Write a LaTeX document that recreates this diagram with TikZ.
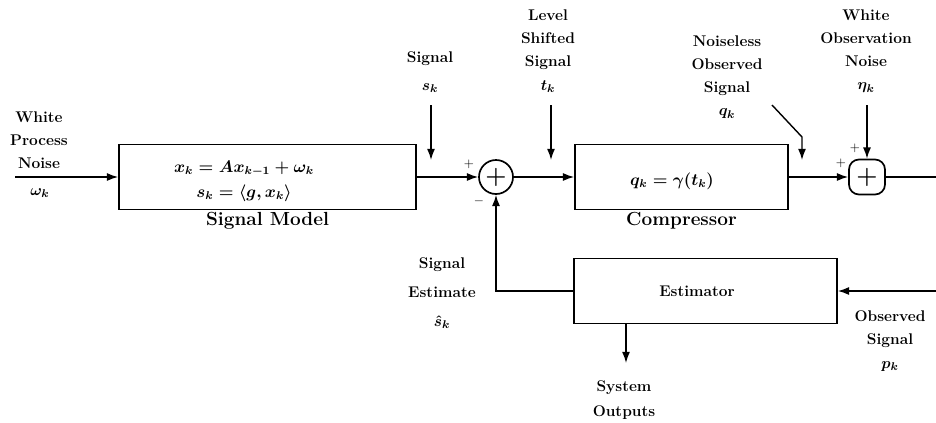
\documentclass[tikz,border=0pt]{standalone}
\usepackage{amsmath,amssymb}
\usetikzlibrary{arrows.meta}

\newcommand{\lblfont}{\fontsize{11}{16.5}\selectfont\bfseries\boldmath}

\begin{document}
\begin{tikzpicture}[
        x=0.025cm,
        y=-0.025cm,
        >={Latex[length=2.8mm,width=2mm]},
        every node/.style={font=\normalsize},
        block/.style={
            rectangle,
            draw,
            line width=1.2pt,
            minimum height=1.625cm,
            inner sep=2pt
        },
        sum/.style={
            circle,
            draw,
            line width=1.2pt,
            minimum size=8.5mm,
            inner sep=0pt,
            font=\LARGE\boldmath
        },
        lbl/.style={align=center, inner sep=1pt, font=\lblfont},
        eqn/.style={align=center, inner sep=1pt, font=\large\boldmath},
        title/.style={font=\fontsize{13.5}{16}\selectfont\bfseries, inner sep=1pt},
        sign/.style={inner sep=0pt, font=\small},
        wire/.style={draw, line width=1pt}
    ]
    \useasboundingbox (0,0) rectangle (936,422);

    % Blocks
    \node[block, minimum width=7.425cm] (model) at (267.5,177) {};
    \node[eqn] (modeleq) at (244,181) {$x_k = A x_{k-1} + \omega_k$\\[4pt]$s_k = \langle g, x_k\rangle$};
    \node[title] (modelname) at (267.5,221) {Signal Model};

    \node[sum] (add1) at (496,177) {$+$};

    \node[block, minimum width=5.325cm] (comp) at (681.5,177) {};
    \node[eqn] (compeq) at (672,181) {$q_k = \gamma(t_k)$};
    \node[title] (compname) at (681.5,221) {Compressor};

    \node[sum, rectangle, rounded corners=2.5mm, minimum width=9mm, minimum height=8.75mm] (add2) at (867,177) {$+$};

    \node[block, minimum width=6.575cm, font=\lblfont] (est) at (705.5,291) {Estimator\hspace*{12pt}};

    % Labels
    \node[lbl] (wlbl) at (39,140) {White\\Process\\Noise};
    \node[lbl] (wsym) at (40,193) {$\omega_k$};
    \node[lbl] (slbl) at (430,72) {Signal\\[3.5pt]$s_k$};
    \node[lbl] (tlbl) at (548,51) {Level\\Shifted\\Signal\\$t_k$};
    \node[lbl] (qlbl) at (727,77) {Noiseless\\Observed\\Signal\\$q_k$};
    \node[lbl] (etalbl) at (866,51) {White\\Observation\\Noise\\$\eta_k$};
    \node[lbl] (selbl) at (442,293) {Signal\\[4pt]Estimate\\[4pt]$\hat{s}_k$};
    \node[lbl] (outlbl) at (624,400) {System\\[1pt]Outputs};
    \node[lbl] (plbl) at (890,341) {Observed\\Signal\\$p_k$};

    \node[sign] (p1) at (469,164) {$+$};
    \node[sign] (m1) at (479,201) {$-$};
    \node[sign] (p2) at (855,148) {$+$};
    \node[sign] (p3) at (841,163) {$+$};

    % Free ends
    \coordinate (win) at (15,177);
    \coordinate (stop) at (431,105);
    \coordinate (stip) at (431,160);
    \coordinate (ttop) at (551,105);
    \coordinate (ttip) at (551,160);
    \coordinate (qtop) at (772,105);
    \coordinate (qbend) at (802,137);
    \coordinate (qtip) at (802,160);
    \coordinate (etop) at (867,105);
    \coordinate (yout) at (936,177);
    \coordinate (pin) at (936,291);
    \coordinate (sysout) at (626,363);

    % Connectors
    \draw[wire,->] (win) -- (model.west);
    \draw[wire,->] (model.east) -- (add1.west);
    \draw[wire,->] (add1.east) -- (comp.west);
    \draw[wire,->] (comp.east) -- (add2.west);
    \draw[wire] (add2.east) -- (yout);
    \draw[wire,->] (pin) -- (est.east);
    \draw[wire,->] (est.west) -| (add1.south);
    \draw[wire,->] (sysout |- est.south) -- (sysout);
    \draw[wire,->] (stop) -- (stip);
    \draw[wire,->] (ttop) -- (ttip);
    \draw[wire,->] (qtop) -- (qbend) -- (qtip);
    \draw[wire,->] (etop) -- (add2.north);

\end{tikzpicture}
\end{document}
